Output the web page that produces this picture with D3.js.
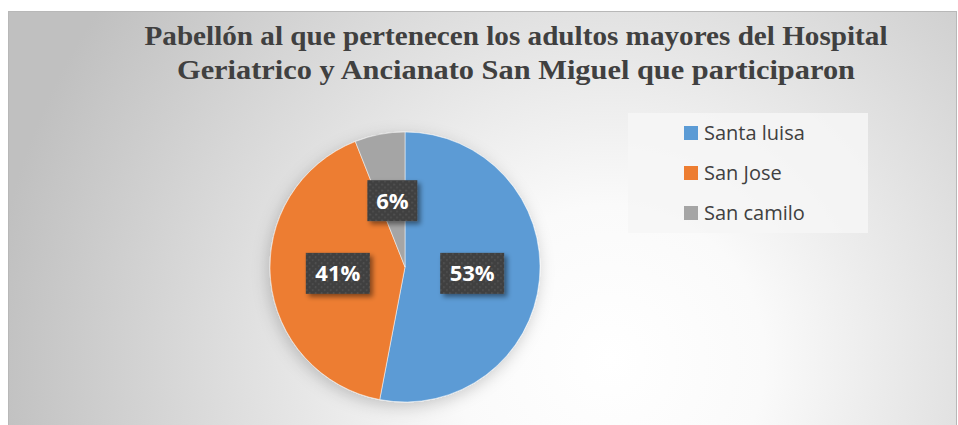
<!DOCTYPE html>
<html>
<head>
<meta charset="utf-8">
<script src="https://cdn.jsdelivr.net/npm/d3@7"></script>
<style>
  body { margin: 0; background: #ffffff; }
  svg { display: block; }
</style>
</head>
<body>
<div id="chart"></div>
<script>
// data
const categories = ["Santa luisa", "San Jose", "San camilo"];
const values = [53, 41, 6];
const colors = ["#5b9bd5", "#ed7d31", "#a5a5a5"];
const titleLines = [
    "Pabellón al que pertenecen los adultos mayores del Hospital",
    "Geriatrico y Ancianato San Miguel que participaron"
];
const titleWidths = [743, 678];

const width = 958, height = 425;

const svg = d3.select("#chart")
    .append("svg")
    .attr("width", width)
    .attr("height", height);

const defs = svg.append("defs");

// background gradient
const grad = defs.append("radialGradient")
    .attr("id", "bg")
    .attr("gradientUnits", "userSpaceOnUse")
    .attr("cx", 610).attr("cy", 360).attr("r", 620);
grad.append("stop").attr("offset", "0%").attr("stop-color", "#ffffff");
grad.append("stop").attr("offset", "25%").attr("stop-color", "#fafafa");
grad.append("stop").attr("offset", "100%").attr("stop-color", "#c0c0c0");

// dotted pattern for labels
const pat = defs.append("pattern")
    .attr("id", "dots")
    .attr("width", 6).attr("height", 6)
    .attr("patternUnits", "userSpaceOnUse");
pat.append("rect").attr("width", 6).attr("height", 6).attr("fill", "#404040");
pat.append("rect").attr("x", 1).attr("y", 1).attr("width", 1.5).attr("height", 1.5).attr("fill", "#5a5a5a");
pat.append("rect").attr("x", 4).attr("y", 4).attr("width", 1.5).attr("height", 1.5).attr("fill", "#555555");

// shadows
const sh = defs.append("filter").attr("id", "shadow")
    .attr("x", "-30%").attr("y", "-30%").attr("width", "160%").attr("height", "160%");
sh.append("feDropShadow").attr("dx", 3).attr("dy", 3).attr("stdDeviation", 2.5)
    .attr("flood-color", "#000").attr("flood-opacity", 0.45);

const pieSh = defs.append("filter").attr("id", "pieShadow")
    .attr("x", "-20%").attr("y", "-20%").attr("width", "140%").attr("height", "140%");
pieSh.append("feDropShadow").attr("dx", -2).attr("dy", 4).attr("stdDeviation", 8)
    .attr("flood-color", "#000").attr("flood-opacity", 0.2);

// chart area
svg.append("rect")
    .attr("x", 8.5).attr("y", 11.5)
    .attr("width", 948).attr("height", 420)
    .attr("fill", "url(#bg)")
    .attr("stroke", "#b8b8b8")
    .attr("stroke-width", 1);

// title
svg.append("g")
    .selectAll("text")
    .data(titleLines)
    .enter().append("text")
    .attr("x", 516)
    .attr("y", function(d, i) { return 45 + i * 34; })
    .attr("text-anchor", "middle")
    .attr("textLength", function(d, i) { return titleWidths[i]; })
    .attr("lengthAdjust", "spacingAndGlyphs")
    .attr("font-family", "'Liberation Serif', 'Times New Roman', serif")
    .attr("font-weight", "bold")
    .attr("font-size", "27.5px")
    .attr("fill", "#404040")
    .text(function(d) { return d; });

// pie
const cx = 405, cy = 267, radius = 135;
const pie = d3.pie().sort(null).value(function(d) { return d; });
const arcs = pie(values);
const arc = d3.arc().innerRadius(0).outerRadius(radius);
const labelArc = d3.arc().innerRadius(radius * 0.5).outerRadius(radius * 0.5);

const g = svg.append("g").attr("transform", "translate(" + cx + "," + cy + ")");

g.append("g")
    .attr("filter", "url(#pieShadow)")
    .selectAll("path")
    .data(arcs)
    .enter().append("path")
    .attr("d", arc)
    .attr("fill", function(d, i) { return colors[i]; })
    .attr("stroke", "#ffffff")
    .attr("stroke-width", 0.5);

const total = d3.sum(values);
const labels = g.selectAll(".lbl")
    .data(arcs)
    .enter().append("g")
    .attr("class", "lbl")
    .attr("transform", function(d) {
        const c = labelArc.centroid(d);
        return "translate(" + c[0] + "," + c[1] + ")";
    });

labels.append("rect")
    .attr("x", function(d) { return d.data < 10 ? -25 : -32; })
    .attr("y", -20.5)
    .attr("width", function(d) { return d.data < 10 ? 50 : 64; })
    .attr("height", 41)
    .attr("fill", "url(#dots)")
    .attr("filter", "url(#shadow)");

labels.append("text")
    .attr("text-anchor", "middle")
    .attr("dy", "0.36em")
    .attr("font-family", "'Open Sans', 'Noto Sans', sans-serif")
    .attr("font-weight", "bold")
    .attr("font-size", "22px")
    .attr("fill", "#ffffff")
    .text(function(d) { return Math.round(d.data / total * 100) + "%"; });

// legend
const legend = svg.append("g");
legend.append("rect")
    .attr("x", 628).attr("y", 113)
    .attr("width", 240).attr("height", 120)
    .attr("fill", "#f6f6f6")
    .attr("fill-opacity", 0.85);

const items = legend.selectAll(".item")
    .data(categories)
    .enter().append("g")
    .attr("class", "item")
    .attr("transform", function(d, i) { return "translate(684," + (133 + i * 40) + ")"; });

items.append("rect")
    .attr("x", 0).attr("y", -7)
    .attr("width", 14).attr("height", 14)
    .attr("fill", function(d, i) { return colors[i]; });

items.append("text")
    .attr("x", 20)
    .attr("dy", "0.35em")
    .attr("font-family", "'Open Sans', 'Noto Sans', sans-serif")
    .attr("font-size", "20px")
    .attr("fill", "#404040")
    .text(function(d) { return d; });
</script>
</body>
</html>
